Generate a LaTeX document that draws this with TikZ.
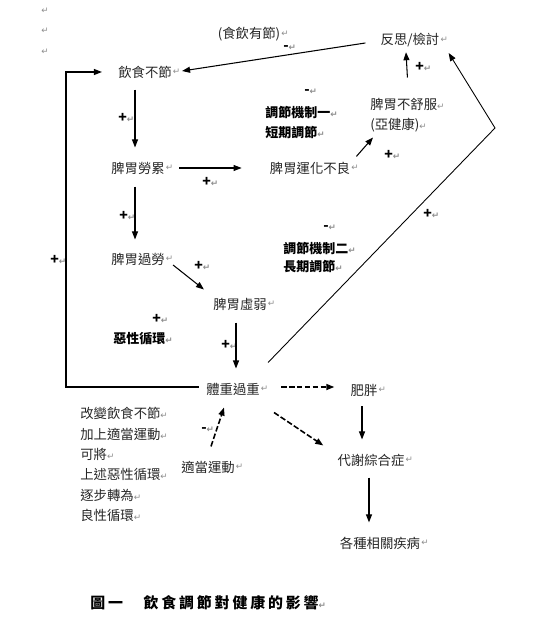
\documentclass[tikz,border=0pt]{standalone}
\usepackage{fontspec}
\usepackage{xcolor}
\usepackage{tikz}
\usetikzlibrary{calc,arrows.meta,positioning}
\newfontfamily\cjk{Noto Sans CJK TC}
\newfontfamily\cjkcap[LetterSpace=19]{Noto Sans CJK TC}
\newfontfamily\symf{DejaVu Sans}
\definecolor{ink}{HTML}{262626}
\definecolor{retgray}{HTML}{8C8C8C}
\newcommand{\retmark}{{\symf\fontsize{5}{6}\selectfont\color{retgray}↵}}
\tikzset{
  ar/.style={-{Triangle[length=1.6mm,width=1.2mm]},line width=0.6pt},
  dar/.style={ar,dashed,line width=0.9pt,dash pattern=on 3.2pt off 1.3pt},
  txt/.style={font=\cjk\fontsize{7.6}{9}\selectfont,text=ink,inner sep=0pt,
    label={[inner sep=0.3pt]right:\retmark}},
  txtm/.style={font=\cjk\fontsize{7.6}{11.6}\selectfont,text=ink,inner sep=0pt,align=left,anchor=west},
  bld/.style={font=\cjk\bfseries\fontsize{7.4}{11.4}\selectfont,inner sep=0pt,align=left,anchor=west},
  sgn/.style={font=\cjk\bfseries\fontsize{8}{9}\selectfont,inner sep=0pt,anchor=west}
}

\begin{document}
\begin{tikzpicture}[x=0.02cm,y=-0.02cm]
\useasboundingbox (0,0) rectangle (535,631);
% empty paragraphs
\foreach \yy in {11,31,52} \node[inner sep=0pt] at (45,\yy) {\retmark};
% main chain
\node[txt] (shiyou) at (249,34) {(食飲有節)};
\node[txt] (fansi) at (410,40) {反思/檢討};
\node[txt] (yb) at (145,72) {飲食不節};
\node[txt] (pl) at (138,168) {脾胃勞累};
\node[txt] (yh) at (310,168) {脾胃運化不良};
\node[txt] (pg) at (138,259) {脾胃過勞};
\node[txt] (px) at (240,304) {脾胃虛弱};
\node[txt] (tz) at (233,389) {體重過重};
\node[txt] (fp) at (364,390) {肥胖};
\node[txt] (dx) at (371,460) {代謝綜合症};
\node[txt] (jb) at (380,543) {各種相關疾病};
\node[txt] (yd) at (208,467) {適當運動};
\node[txtm] (bs) at (370,115) {脾胃不舒服\retmark\\(亞健康)\retmark};
\node[txtm] (gaibian) at (80,464.5) {改變飲食不節\retmark\\加上適當運動\retmark\\可將\retmark\\上述惡性循環\retmark\\逐步轉為\retmark\\良性循環\retmark};
% bold notes
\node[bld] (tj1) at (265,122.5) {調節機制一\retmark\\短期調節\retmark};
\node[bld,font=\cjk\bfseries\fontsize{7.4}{10.6}\selectfont] (tj2) at (283,257.5) {調節機制二\retmark\\長期調節\retmark};
\node[bld] (ex) at (113,339) {惡性循環\retmark};
% signs
\foreach \sx/\sy [count=\i] in {118/118,202/182,119/216,194/266,152/319,221/345,50/260,415/67,384/155,423/214}
  \node[sgn] (plus\i) at (\sx,\sy) {+\retmark};
\foreach \sx/\sy [count=\i] in {283/48,304/92,323/228,201/430}
  \node[sgn] (minus\i) at (\sx,\sy) {-\retmark};
% connectors
\coordinate (lp) at (66,230);
\coordinate (kink) at (495,128);
\draw[ar] ($(fansi.west)+(-15,3)$) -- ($(yb.east)+(10,-1)$);
\draw[ar] ($(tz.west)+(-7,-2)$) -| (lp) |- ($(yb.west)+(-16,0)$);
\draw[ar] ($(yb.south)+(-10,11)$) -- ($(pl.north)+(-3,-14)$);
\draw[ar] ($(pl.east)+(14,0)$) -- ($(yh.west)+(-28,0)$);
\draw[ar] ($(pl.south)+(-3,12)$) -- ($(pg.north)+(-3,-13)$);
\draw[ar] ($(pg.east)+(8,6)$) -- ($(px.north west)+(-9,-8)$);
\draw[ar] ($(px.south)+(-4,12)$) -- ($(tz.north)+(3,-14)$);
\draw[dar] ($(tz.east)+(21,-2)$) -- ($(fp.west)+(-16,-3)$);
\draw[ar] ($(fp.south)+(-2,10)$) -- ($(dx.north)+(-9,-14)$);
\draw[dar] ($(tz.south east)+(14,17)$) -- ($(dx.north west)+(-14,-8)$);
\draw[ar] ($(dx.south)+(-2,11)$) -- ($(jb.north)+(-11,-14)$);
\draw[dar] ($(yd.north)+(3,-14)$) -- ($(tz.south)+(-9,12)$);
\draw[ar] ($(yh.north east)+(6,-5)$) -- ($(bs.south west)+(3,5)$);
\draw[ar] ($(bs.north)+(0,-20)$) -- ($(fansi.south)+(-4,5)$);
\draw[ar,line width=0.5pt] ($(tz.north east)+(8,-20)$) -- (kink) -- ($(fansi.east)+(9,13)$);
% caption
\node[font=\cjkcap\bfseries\fontsize{8.5}{10}\selectfont,anchor=west,inner sep=0pt] (cap) at (90,603) {圖一　飲食調節對健康的影響\retmark};
\end{tikzpicture}
\end{document}
